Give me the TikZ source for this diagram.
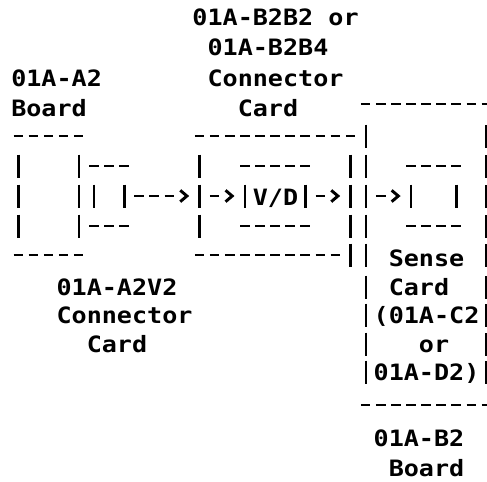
\documentclass[tikz,border=0pt]{standalone}
\usepackage{fontspec}
\usetikzlibrary{arrows.meta}
\newfontfamily\asciifont[FakeStretch=1.115]{DejaVu Sans Mono}

\begin{document}
\begin{tikzpicture}[x=11.325pt, y=-0.75pt,
    font={\asciifont\bfseries\fontsize{16.875}{20}\selectfont},
    lbl/.style={anchor=base west, inner sep=0pt},
    rule/.style={line width=2.2pt, dash pattern=on 7.2pt off 4.125pt},
    bar/.style={line width=1.9pt},
    flow/.style={line width=2.2pt, -{Straight Barb[length=5pt,width=8.5pt]}},
    longflow/.style={flow, dash pattern=on 7.2pt off 4.125pt on 7.2pt off 4.125pt on 7.2pt off 15pt},
    shortflow/.style={flow, dash pattern=on 7.2pt off 15pt}]
  \path[use as bounding box, fill=white] (-0.7285,0) rectangle (31.523,481);

  % labels
  \node[lbl] (b2b2) at (12,26) {01A-B2B2 or};
  \node[lbl] (b2b4) at (13,56) {01A-B2B4};
  \node[lbl] (a2) at (0,87) {01A-A2};
  \node[lbl] (conntop) at (13,87) {Connector};
  \node[lbl] (a2board) at (0,116) {Board};
  \node[lbl] (cardtop) at (15,116) {Card};
  \node[lbl] (vd) at (16,205) {V/D};
  \node[lbl] (sense) at (25,266) {Sense};
  \node[lbl] (a2v2) at (3,295) {01A-A2V2};
  \node[lbl] (sensecard) at (25,295) {Card};
  \node[lbl] (connbot) at (3,323) {Connector};
  \node[lbl] (c2) at (24,323) {(01A-C2};
  \node[lbl] (cardbot) at (5,352) {Card};
  \node[lbl] (or) at (27,352) {or};
  \node[lbl] (d2) at (24,380) {01A-D2)};
  \node[lbl] (b2) at (24,446) {01A-B2};
  \node[lbl] (b2board) at (25,476) {Board};

  % dashed edges: first cell / last cell / row
  \foreach \a/\b/\y in {23/31/104, 0/4/136, 12/22/136, 5/7/166, 15/19/166, 26/29/166,
      5/7/226, 15/19/226, 26/29/226, 0/4/255, 12/21/255, 23/31/405}
    \draw[rule] (\a+0.17,\y) -- (\b+0.8,\y);

  % bars: cell / rows
  \foreach \k/\rows in {0/{166,196,226}, 4/{166,196,226}, 5/{196}, 7/{196},
      12/{166,196,226}, 15/{196}, 19/{196}, 22/{166,196,226,255},
      23/{136,166,196,226,255,287,315,344,372}, 26/{196}, 29/{196},
      31/{136,166,196,226,255,287,315,344,372}}
    \foreach \y in \rows
      \draw[bar] (\k+0.5,\y-11.5) -- (\k+0.5,\y+11.5);

  % signal path
  \coordinate (a2v2out) at (8.17,196);
  \coordinate (b2b2in) at (11.8,196);
  \coordinate (b2b2fwd) at (13.17,196);
  \coordinate (vdin) at (14.8,196);
  \coordinate (vdout) at (20.17,196);
  \coordinate (b2b2out) at (21.8,196);
  \coordinate (sensein) at (24.17,196);
  \coordinate (sensebox) at (25.8,196);
  \draw[longflow] (a2v2out) -- (b2b2in);
  \draw[shortflow] (b2b2fwd) -- (vdin);
  \draw[shortflow] (vdout) -- (b2b2out);
  \draw[shortflow] (sensein) -- (sensebox);
\end{tikzpicture}
\end{document}
